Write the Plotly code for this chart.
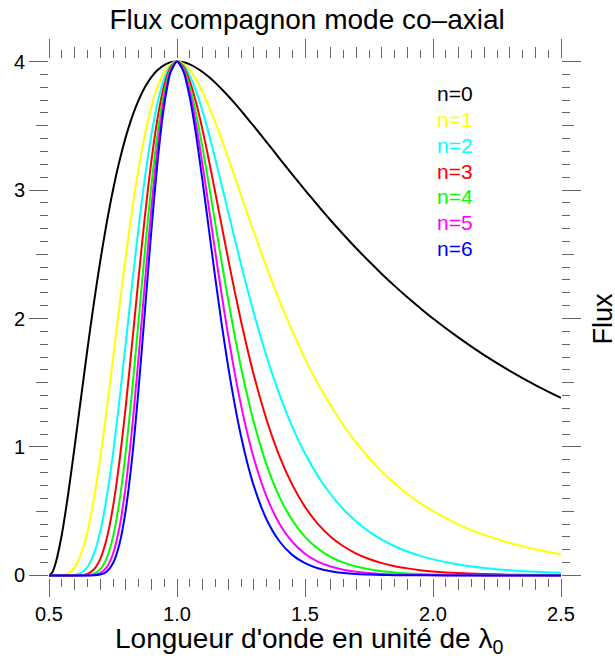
import plotly.graph_objects as go

# wavelength in units of lambda_0
wavelength = [0.5, 0.5125, 0.525, 0.55, 0.575, 0.6, 0.625, 0.65, 0.675, 0.7, 0.725, 0.75, 0.775,
              0.8, 0.825, 0.85, 0.875, 0.9, 0.925, 0.95, 0.975, 1.0, 1.025, 1.05, 1.075,
              1.1, 1.125, 1.15, 1.175, 1.2, 1.225, 1.25, 1.275, 1.3, 1.35, 1.4, 1.45, 1.5,
              1.55, 1.6, 1.65, 1.7, 1.75, 1.8, 1.85, 1.9, 1.95, 2.0, 2.1, 2.2, 2.3, 2.4, 2.5]

flux_n0 = [0.0, 0.023, 0.089, 0.317, 0.635, 1.000, 1.382, 1.759, 2.116, 2.445, 2.740, 3.000, 3.224,
           3.414, 3.572, 3.700, 3.802, 3.879, 3.936, 3.973, 3.994, 4.000, 3.994, 3.978, 3.952,
           3.919, 3.879, 3.834, 3.785, 3.732, 3.676, 3.618, 3.558, 3.497, 3.373, 3.247, 3.122,
           3.000, 2.881, 2.765, 2.654, 2.547, 2.445, 2.347, 2.254, 2.165, 2.081, 2.000, 1.851,
           1.715, 1.593, 1.482, 1.382]
flux_n1 = [0.0, 0.0, 0.0, 0.002, 0.016, 0.0625, 0.165, 0.340, 0.592, 0.913, 1.286, 1.688, 2.095,
           2.487, 2.849, 3.167, 3.435, 3.649, 3.810, 3.919, 3.981, 4.000, 3.982, 3.933, 3.858,
           3.762, 3.649, 3.524, 3.389, 3.249, 3.105, 2.960, 2.815, 2.673, 2.398, 2.140, 1.903,
           1.688, 1.494, 1.322, 1.169, 1.033, 0.914, 0.808, 0.716, 0.634, 0.563, 0.500, 0.396,
           0.316, 0.253, 0.204, 0.165]
flux_n2 = [0.0, 0.0, 0.0, 0.0, 0.0004, 0.0039, 0.0197, 0.0657, 0.166, 0.341, 0.604, 0.949, 1.361,
           1.812, 2.272, 2.711, 3.103, 3.432, 3.688, 3.865, 3.968, 4.000, 3.971, 3.889, 3.766,
           3.611, 3.432, 3.238, 3.035, 2.828, 2.623, 2.422, 2.228, 2.043, 1.704, 1.410, 1.159,
           0.949, 0.775, 0.632, 0.515, 0.419, 0.341, 0.278, 0.227, 0.186, 0.152, 0.125, 0.085,
           0.058, 0.040, 0.028, 0.020]
flux_n3 = [0.0, 0.0, 0.0, 0.0, 0.0, 0.0002, 0.0024, 0.0127, 0.0464, 0.1275, 0.283, 0.534, 0.884,
           1.320, 1.812, 2.320, 2.803, 3.228, 3.570, 3.813, 3.955, 4.000, 3.959, 3.846, 3.677,
           3.466, 3.228, 2.975, 2.717, 2.462, 2.215, 1.981, 1.763, 1.561, 1.212, 0.929, 0.707,
           0.534, 0.402, 0.302, 0.227, 0.170, 0.128, 0.096, 0.072, 0.055, 0.041, 0.031, 0.018,
           0.011, 0.006, 0.004, 0.002]
flux_n4 = [0.0, 0.0, 0.0, 0.0, 0.0, 0.0, 0.0003, 0.0025, 0.013, 0.0476, 0.133, 0.300, 0.575,
           0.962, 1.445, 1.985, 2.533, 3.037, 3.455, 3.761, 3.942, 4.000, 3.947, 3.803, 3.589,
           3.327, 3.037, 2.734, 2.433, 2.143, 1.871, 1.621, 1.395, 1.193, 0.861, 0.612, 0.431,
           0.300, 0.209, 0.144, 0.100, 0.069, 0.048, 0.033, 0.023, 0.016, 0.011, 0.008, 0.004,
           0.002, 0.001, 0.0005, 0.0003]
flux_n5 = [0.0, 0.0, 0.0, 0.0, 0.0, 0.0, 0.0, 0.0005, 0.0036, 0.0178, 0.0624, 0.169, 0.373,
           0.701, 1.152, 1.699, 2.288, 2.856, 3.345, 3.710, 3.929, 4.000, 3.936, 3.761, 3.504,
           3.194, 2.856, 2.512, 2.179, 1.866, 1.581, 1.326, 1.104, 0.912, 0.612, 0.403, 0.262,
           0.169, 0.108, 0.069, 0.044, 0.028, 0.018, 0.011, 0.007, 0.005, 0.003, 0.002, 0.001,
           0.0004, 0.0002, 0.0001, 0.0]
flux_n6 = [0.0, 0.0, 0.0, 0.0, 0.0, 0.0, 0.0, 0.0001, 0.0010, 0.0067, 0.0293, 0.095, 0.243,
           0.511, 0.919, 1.454, 2.067, 2.687, 3.238, 3.659, 3.917, 4.000, 3.924, 3.719, 3.421,
           3.066, 2.687, 2.309, 1.951, 1.624, 1.335, 1.085, 0.873, 0.697, 0.435, 0.266, 0.160,
           0.095, 0.056, 0.033, 0.019, 0.011, 0.007, 0.004, 0.002, 0.0014, 0.0008, 0.0005,
           0.0002, 0.0001, 0.0, 0.0, 0.0]

series = [flux_n0, flux_n1, flux_n2, flux_n3, flux_n4, flux_n5, flux_n6]
labels = ["n=0", "n=1", "n=2", "n=3", "n=4", "n=5", "n=6"]
colors = ["#000000", "#ffff00", "#00ffff", "#ff0000", "#00ff00", "#ff00ff", "#0000ff"]

# legend label anchor (data coordinates)
legend_x = 2.008
legend_y0 = 3.748
legend_dy = 0.2

FONT = "Liberation Sans, Arial, Helvetica, sans-serif"
TICKC = "#666666"
XR = [0.5, 2.5]
YR = [-0.02, 4.02]

fig = go.Figure()
for vals, lab, col in zip(series, labels, colors):
    fig.add_trace(go.Scatter(x=wavelength, y=vals, mode="lines", name=lab,
                             line=dict(color=col, width=2, shape="spline", smoothing=0.7),
                             showlegend=False, hoverinfo="skip"))

# placeholder traces so the overlay tick axes exist
for xa, ya in [("x2", "y2"), ("x3", "y3"), ("x4", "y4")]:
    fig.add_trace(go.Scatter(x=[None], y=[None], xaxis=xa, yaxis=ya, mode="lines",
                             showlegend=False, hoverinfo="skip"))

for i, (lab, col) in enumerate(zip(labels, colors)):
    fig.add_annotation(x=legend_x, y=legend_y0 - legend_dy * i, xref="x", yref="y",
                       text=lab, showarrow=False, xanchor="left", yanchor="middle",
                       font=dict(family=FONT, size=21, color=col))

common = dict(showgrid=False, zeroline=False, showline=False, ticks="outside",
              tickcolor=TICKC, tickwidth=1)

W, H = 615, 660
fig.update_layout(
    width=W, height=H,
    margin=dict(l=49, r=54, t=59, b=82, autoexpand=False),
    paper_bgcolor="white", plot_bgcolor="white",
    title=dict(text="Flux compagnon mode co–axial", x=0.504, xanchor="center",
               xref="paper", y=1 - 19.5 / H, yref="container", yanchor="middle",
               font=dict(family=FONT, size=28, color="black")),
    xaxis=dict(range=XR, tickmode="linear", tick0=0.5, dtick=0.5, tickformat=".1f",
               ticklen=18, tickfont=dict(family=FONT, size=20, color="black"),
               minor=dict(tick0=0.5, dtick=0.1, ticklen=11, tickcolor=TICKC, ticks="outside"),
               **common),
    xaxis2=dict(range=XR, overlaying="x", anchor="y", side="top", tickmode="linear",
                tick0=0.5, dtick=0.5, ticklen=19, showticklabels=False,
                minor=dict(tick0=0.5, dtick=0.1, ticklen=11, tickcolor=TICKC, ticks="outside"),
                **common),
    xaxis3=dict(range=XR, overlaying="x", anchor="y", side="bottom", tickmode="linear",
                tick0=0.5, dtick=0.05, ticklen=8, showticklabels=False, **common),
    xaxis4=dict(range=XR, overlaying="x", anchor="y", side="top", tickmode="linear",
                tick0=0.5, dtick=0.05, ticklen=8, showticklabels=False, **common),
    yaxis=dict(range=YR, tickmode="linear", tick0=0, dtick=1, ticklen=19,
               tickfont=dict(family=FONT, size=20, color="black"),
               minor=dict(tick0=0, dtick=0.5, ticklen=12, tickcolor=TICKC, ticks="outside"),
               **common),
    yaxis2=dict(range=YR, overlaying="y", anchor="x", side="right", tickmode="linear",
                tick0=0, dtick=1, ticklen=19, showticklabels=False,
                minor=dict(tick0=0, dtick=0.5, ticklen=12, tickcolor=TICKC, ticks="outside"),
                **common),
    yaxis3=dict(range=YR, overlaying="y", anchor="x", side="left", tickmode="linear",
                tick0=0, dtick=0.1, ticklen=8, showticklabels=False, **common),
    yaxis4=dict(range=YR, overlaying="y", anchor="x", side="right", tickmode="linear",
                tick0=0, dtick=0.1, ticklen=8, showticklabels=False, **common),
)

fig.add_annotation(text="Longueur d'onde en unité de λ<sub>0</sub>", xref="paper", yref="paper",
                   x=0.508, y=(578 - 640) / 519, xanchor="center", yanchor="middle",
                   showarrow=False, font=dict(family=FONT, size=28, color="black"))
fig.add_annotation(text="Flux", xref="paper", yref="paper", x=(602 - 49) / 512, y=0.5,
                   xanchor="center", yanchor="middle", textangle=-90, showarrow=False,
                   font=dict(family=FONT, size=27, color="black"))

fig.write_html("out.html", config={"displayModeBar": False},
               post_script="document.body.style.margin='0';document.body.style.overflow='hidden';")
